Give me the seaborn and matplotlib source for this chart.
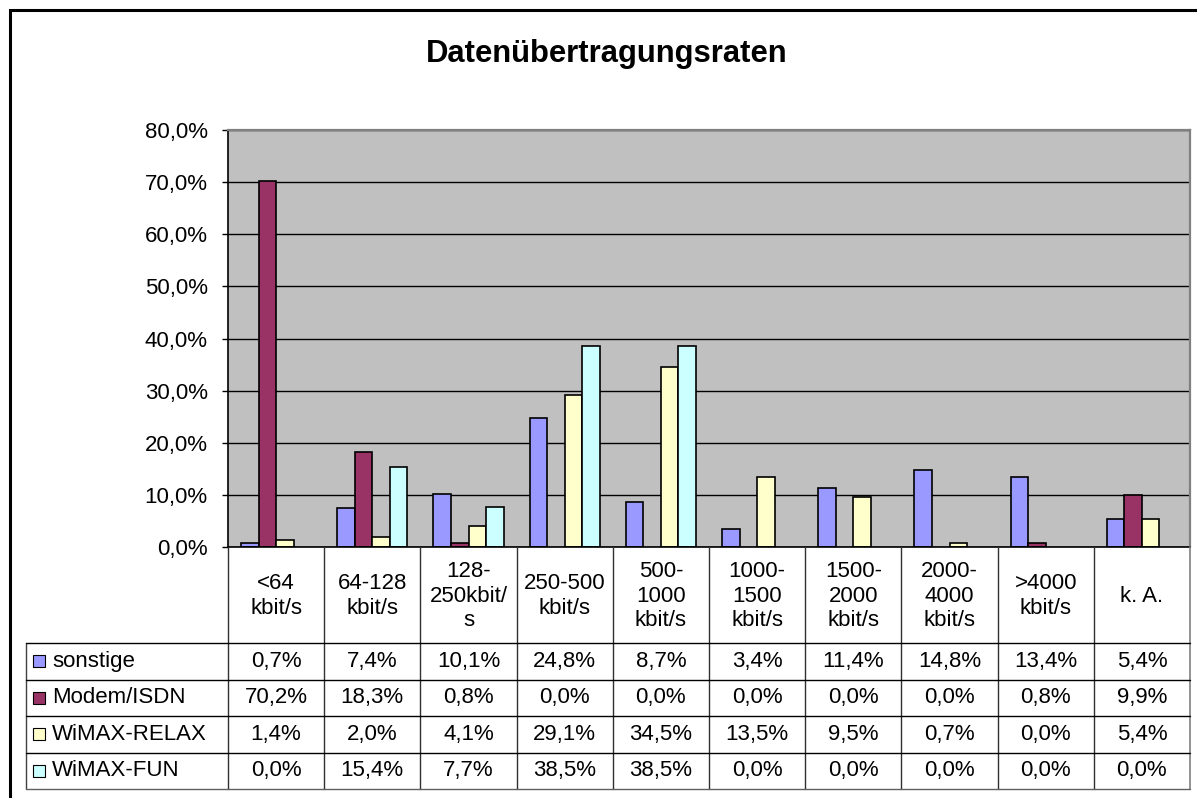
import numpy as np
import pandas as pd
import matplotlib
matplotlib.use("Agg")
import matplotlib.pyplot as plt
import seaborn as sns
from matplotlib.lines import Line2D
from matplotlib.patches import Rectangle
from matplotlib.ticker import FuncFormatter

# ---------------- data ----------------
title = "Datenübertragungsraten"
categories = ["<64\nkbit/s", "64-128\nkbit/s", "128-\n250kbit/\ns", "250-500\nkbit/s",
              "500-\n1000\nkbit/s", "1000-\n1500\nkbit/s", "1500-\n2000\nkbit/s",
              "2000-\n4000\nkbit/s", ">4000\nkbit/s", "k. A."]
series = ["sonstige", "Modem/ISDN", "WiMAX-RELAX", "WiMAX-FUN"]
sonstige = [0.7, 7.4, 10.1, 24.8, 8.7, 3.4, 11.4, 14.8, 13.4, 5.4]
modem_isdn = [70.2, 18.3, 0.8, 0.0, 0.0, 0.0, 0.0, 0.0, 0.8, 9.9]
wimax_relax = [1.4, 2.0, 4.1, 29.1, 34.5, 13.5, 9.5, 0.7, 0.0, 5.4]
wimax_fun = [0.0, 15.4, 7.7, 38.5, 38.5, 0.0, 0.0, 0.0, 0.0, 0.0]
colors = ["#9999FF", "#993366", "#FFFFCC", "#CCFFFF"]
yticks = [0, 10, 20, 30, 40, 50, 60, 70, 80]

values = [sonstige, modem_isdn, wimax_relax, wimax_fun]
rows = []
for s, vals in zip(series, values):
    for c, v in zip(categories, vals):
        rows.append({"cat": c, "series": s, "val": v})
df = pd.DataFrame(rows)
df_plot = df[df["val"] > 0]

def fmt(v):
    return f"{v:.1f}".replace(".", ",") + "%"

# ---------------- figure ----------------
W, H = 1197, 798
sns.set_style("white")
plt.rcParams["font.family"] = ["Liberation Sans", "DejaVu Sans"]
plt.rcParams["text.color"] = "black"
plt.rcParams["ytick.color"] = "black"
plt.rcParams["ytick.labelcolor"] = "black"
FS = 16

fig = plt.figure(figsize=(W / 100, H / 100), dpi=100)
fig.patch.set_facecolor("white")

ax_left, ax_right, ax_top, ax_bot = 228, 1190, 130, 547
ax = fig.add_axes([ax_left / W, 1 - ax_bot / H, (ax_right - ax_left) / W, (ax_bot - ax_top) / H])

sns.barplot(data=df_plot, x="cat", y="val", hue="series", order=categories,
            hue_order=series, palette=dict(zip(series, colors)), width=0.73,
            edgecolor="black", linewidth=1.2, saturation=1, errorbar=None,
            legend=False, ax=ax)

ax.set_xlim(-0.5, len(categories) - 0.5)
ax.set_ylim(yticks[0], yticks[-1])
ax.set_facecolor("#C0C0C0")
ax.set_yticks(yticks)
ax.yaxis.set_major_formatter(FuncFormatter(lambda v, p: fmt(v)))
ax.yaxis.grid(True, color="black", linewidth=1.0)
ax.set_axisbelow(True)
ax.set_xticks([])
ax.set_xlabel("")
ax.set_ylabel("")
ax.tick_params(axis="y", left=True, length=4.5, width=1, pad=10, labelsize=FS,
               color="black", labelcolor="black")
for side in ["left", "bottom"]:
    ax.spines[side].set_color("black")
    ax.spines[side].set_linewidth(1.2)
for side in ["top", "right"]:
    ax.spines[side].set_color("#808080")
    ax.spines[side].set_linewidth(1.6)

# title
fig.text(607 / W, 1 - 62 / H, title, ha="center", va="baseline", fontsize=22.3,
         fontweight="bold", color="black")

# ---------------- data table ----------------
fig.canvas.draw()
xs = [ax.transData.transform((i - 0.5, 0))[0] for i in range(len(categories) + 1)]
header_bottom = ax_bot + 96
row_h = 36.5
row_lines = [header_bottom + k * row_h for k in range(len(series) + 1)]
table_left = 26

def line(x1, y1, x2, y2, color="black", lw=1.0):
    fig.add_artist(Line2D([x1 / W, x2 / W], [1 - y1 / H, 1 - y2 / H],
                          transform=fig.transFigure, color=color, linewidth=lw))

# vertical lines
for i, x in enumerate(xs):
    color = "#808080" if i == len(xs) - 1 else "#303030"
    line(x, ax_bot, x, row_lines[-1], color=color, lw=1.2 if i == len(xs) - 1 else 1.0)
line(table_left, header_bottom, table_left, row_lines[-1], color="#404040")
# horizontal lines
for k, y in enumerate(row_lines):
    color = "#606060" if k == len(row_lines) - 1 else "black"
    line(table_left, y, xs[-1], y, color=color, lw=1.0)

# header labels
for i, c in enumerate(categories):
    xc = 0.5 * (xs[i] + xs[i + 1])
    fig.text(xc / W, 1 - (0.5 * (ax_bot + header_bottom) + 1) / H, c, ha="center",
             va="center", fontsize=FS, linespacing=1.22)

# rows
for k, (s, vals, col) in enumerate(zip(series, values, colors)):
    yc = 0.5 * (row_lines[k] + row_lines[k + 1])
    sq = 12
    fig.add_artist(Rectangle((33 / W, 1 - (yc + sq / 2) / H), sq / W, sq / H,
                             transform=fig.transFigure, facecolor=col,
                             edgecolor="black", linewidth=0.8))
    fig.text(52 / W, 1 - yc / H, s, ha="left", va="center", fontsize=FS)
    for i, v in enumerate(vals):
        xc = 0.5 * (xs[i] + xs[i + 1])
        fig.text(xc / W, 1 - yc / H, fmt(v), ha="center", va="center", fontsize=FS)

# outer border
fig.add_artist(Rectangle((10 / W, -0.02), (W + 5 - 10) / W, 1 - 10 / H + 0.02,
                         transform=fig.transFigure, fill=False, edgecolor="black",
                         linewidth=2.2))

fig.savefig("out.png", dpi=100)
